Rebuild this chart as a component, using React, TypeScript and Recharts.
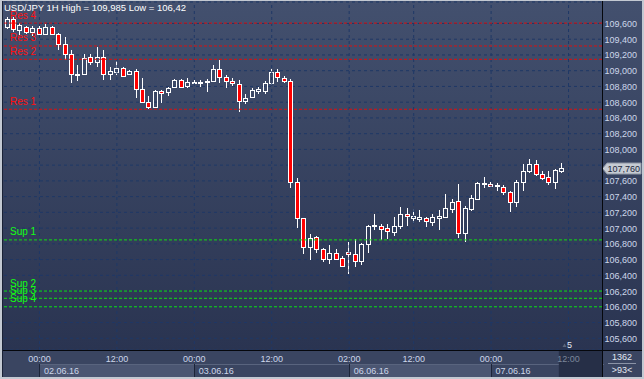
import { ComposedChart, Bar, XAxis, YAxis, CartesianGrid, ReferenceLine } from "recharts";

// hourly candles, 01.06 19:00 -> 07.06 11:00 (weekend skipped)
const OPEN = [
  109.552, 109.653, 109.517, 109.559, 109.488, 109.539, 109.463, 109.552, 109.463, 109.336,
  109.209, 108.942, 108.958, 109.171, 109.107, 109.178, 108.958, 108.988, 109.031, 108.958,
  109.0, 108.764, 108.599, 108.543, 108.746, 108.726, 108.789, 108.882, 108.806, 108.853,
  108.853, 108.857, 108.869, 109.018, 108.916, 108.869, 108.827, 108.615, 108.662, 108.746,
  108.741, 108.84, 108.98, 108.911, 108.869, 107.582, 107.125, 106.756, 106.883, 106.731,
  106.612, 106.68, 106.617, 106.693, 106.667, 106.586, 106.794, 107.031, 107.031, 106.998,
  106.955, 107.023, 107.176, 107.133, 107.12, 107.125, 107.082, 107.133, 107.145, 107.247,
  107.345, 106.934, 107.247, 107.37, 107.561, 107.561, 107.531, 107.525, 107.455, 107.336,
  107.589, 107.73, 107.811, 107.684, 107.646, 107.59, 107.73,
];
const HIGH = [
  109.679, 109.686, 109.603, 109.568, 109.568, 109.568, 109.59, 109.562, 109.475, 109.432,
  109.263, 109.073, 109.209, 109.209, 109.298, 109.263, 109.051, 109.124, 109.051, 109.009,
  109.018, 108.904, 108.683, 108.761, 108.755, 108.797, 108.891, 108.891, 108.904, 108.882,
  108.882, 108.891, 109.073, 109.136, 108.946, 108.911, 108.882, 108.7, 108.774, 108.797,
  108.873, 109.018, 109.018, 108.937, 108.891, 107.633, 107.13, 106.925, 106.9, 106.751,
  106.786, 106.731, 106.65, 106.824, 106.858, 106.815, 107.04, 107.18, 107.049, 107.049,
  107.138, 107.268, 107.252, 107.239, 107.23, 107.138, 107.176, 107.23, 107.434, 107.366,
  107.561, 107.281, 107.421, 107.589, 107.646, 107.589, 107.577, 107.547, 107.472, 107.611,
  107.815, 107.878, 107.866, 107.73, 107.73, 107.745, 107.824,
];
const LOW = [
  109.526, 109.496, 109.454, 109.463, 109.441, 109.454, 109.455, 109.454, 109.263, 109.136,
  108.84, 108.873, 108.946, 109.073, 109.051, 108.882, 108.882, 108.946, 108.924, 108.946,
  108.65, 108.586, 108.51, 108.535, 108.586, 108.683, 108.777, 108.777, 108.777, 108.83,
  108.789, 108.733, 108.861, 108.84, 108.777, 108.81, 108.479, 108.577, 108.657, 108.7,
  108.704, 108.817, 108.861, 108.84, 107.506, 106.998, 106.671, 106.595, 106.688, 106.566,
  106.54, 106.595, 106.502, 106.42, 106.509, 106.532, 106.688, 106.976, 106.849, 106.861,
  106.904, 106.985, 107.027, 107.061, 107.082, 107.01, 107.027, 106.976, 107.125, 107.196,
  106.871, 106.826, 107.22, 107.357, 107.506, 107.525, 107.475, 107.421, 107.201, 107.272,
  107.475, 107.697, 107.661, 107.612, 107.548, 107.496, 107.697,
];
const CLOSE = [
  109.657, 109.526, 109.581, 109.488, 109.539, 109.463, 109.559, 109.463, 109.336, 109.212,
  108.955, 108.958, 109.165, 109.107, 109.178, 108.958, 109.0, 109.038, 108.937, 109.0,
  108.764, 108.606, 108.543, 108.746, 108.721, 108.777, 108.882, 108.789, 108.861, 108.861,
  108.861, 108.869, 109.018, 108.916, 108.869, 108.84, 108.615, 108.65, 108.755, 108.768,
  108.84, 108.98, 108.924, 108.869, 107.582, 107.125, 106.756, 106.871, 106.731, 106.604,
  106.68, 106.612, 106.523, 106.667, 106.586, 106.794, 107.031, 107.04, 106.985, 106.958,
  107.023, 107.176, 107.151, 107.154, 107.138, 107.091, 107.138, 107.151, 107.252, 107.332,
  106.934, 107.252, 107.379, 107.577, 107.577, 107.534, 107.547, 107.455, 107.328, 107.589,
  107.73, 107.815, 107.684, 107.641, 107.59, 107.739, 107.76,
];

const SLOTS = 93; // bars visible on screen (">93<")
const PAD_RIGHT = -2; // last slot runs slightly under the price scale
const TIME_TICKS = [5, 17, 29, 41, 53, 63, 75, 87];
const TIME_LABELS = ["00:00", "12:00", "00:00", "12:00", "02:00", "12:00", "00:00", "12:00"];
const DATE_TICKS = [5, 29, 53, 75];
const DATE_LABELS = ["02.06.16", "03.06.16", "06.06.16", "07.06.16"];
const PRICE_TICKS = [
  105.6, 105.8, 106.0, 106.2, 106.4, 106.6, 106.8, 107.0, 107.2, 107.4, 107.6,
  107.8, 108.0, 108.2, 108.4, 108.6, 108.8, 109.0, 109.2, 109.4, 109.6,
];
const RES_NAMES = ["Res 4", "Res 3", "Res 2", "Res 1"];
const RES_VALUES = [109.605, 109.314, 109.145, 108.51];
const SUP_NAMES = ["Sup 1", "Sup 2", "Sup 3", "Sup 4"];
const SUP_VALUES = [106.85, 106.2, 106.108, 106.0];
const HIGH_TEXT = "109,985";
const LOW_TEXT = "106,42";

const ROWS = Array.from({ length: SLOTS }, (_, i) =>
  i < OPEN.length ? { i, open: OPEN[i], high: HIGH[i], low: LOW[i], close: CLOSE[i] } : { i }
);
const LAST = CLOSE[CLOSE.length - 1];
const LAST_INDEX = CLOSE.length - 1;

const BG_TOP = "#43506e";
const BG_BOTTOM = "#2a3451";
const GRID = "#1f3866";
const AXIS_TEXT = "#cdd7ea";
const BAND = "#3a4561";
const BAND_LIGHT = "#4b5672";
const FRAME = "#c3c9d2";
const RED_LINE = "#dc1010";
const GREEN_LINE = "#10e010";

const fmt = (v: number) => v.toFixed(3).replace(".", ",");

const Candle = (p: any) => {
  const d = p.payload;
  if (!d || d.open == null || !(p.height > 0)) return null;
  const k = p.height / (d.high - d.low);
  const cx = Math.floor(p.x + p.width / 2) + 0.5;
  const yO = p.y + (d.high - d.open) * k;
  const yC = p.y + (d.high - d.close) * k;
  const top = Math.round(Math.min(yO, yC)) + 0.5;
  let bot = Math.round(Math.max(yO, yC)) + 0.5;
  if (bot - top < 1) bot = top + 1;
  const up = d.close >= d.open;
  return (
    <g>
      <line x1={cx} x2={cx} y1={Math.round(p.y)} y2={top} stroke="#fff" />
      <line x1={cx} x2={cx} y1={bot} y2={Math.round(p.y + p.height)} stroke="#fff" />
      <rect x={cx - 2} y={top} width={4} height={bot - top} fill={up ? "none" : "#ff0000"} stroke="#fff" />
    </g>
  );
};

// the last-price flag covers the label next to it
const PriceTick = ({ x, y, payload }: any) =>
  Math.abs(payload.value - LAST) < 0.08 ? null : (
    <text x={x + 2.5} y={y + 3.5} fill={AXIS_TEXT} fontSize={9}>
      {fmt(payload.value)}
    </text>
  );

const TimeTick = (props: any) => {
  const { x, y, payload, width } = props;
  const v = payload.value as number;
  const bw = ((width || 598) - PAD_RIGHT) / SLOTS;
  const t = TIME_TICKS.indexOf(v);
  const d = DATE_TICKS.indexOf(v);
  const future = v > LAST_INDEX;
  let span = 0;
  if (d >= 0) {
    const next = d + 1 < DATE_TICKS.length ? DATE_TICKS[d + 1] : SLOTS - 0.5;
    span = (next - v) * bw;
  }
  return (
    <g>
      {d >= 0 && (
        <g>
          <rect x={x} y={y + 14} width={span} height={13} fill={d % 2 === 0 ? BAND_LIGHT : BAND} />
          <line x1={x} x2={x + span} y1={y + 14.5} y2={y + 14.5} stroke="#59647e" />
          <line x1={Math.round(x) + 0.5} x2={Math.round(x) + 0.5} y1={y + 14} y2={y + 27} stroke="#1c2438" />
          <text x={x + 4.5} y={y + 23.5} fill={AXIS_TEXT} fontSize={9}>
            {DATE_LABELS[d]}
          </text>
        </g>
      )}
      {future && (
        <g>
          <rect x={x - 1.5 * bw} y={y} width={(SLOTS - 0.5 - v + 1.5) * bw + PAD_RIGHT} height={27} fill="#262f47" />
          <path d={`M ${x - 6} ${y - 3} l 2 -3.5 l 2 3.5 z`} fill="#5c667b" />
          <text x={x - 1.5} y={y - 2.5} fill="#e6ecf6" fontSize={9}>5</text>
        </g>
      )}
      <text x={x} y={y + 12} textAnchor="middle" fill={future ? "#7b869a" : AXIS_TEXT} fontSize={9}>
        {TIME_LABELS[t]}
      </text>
    </g>
  );
};

const levelLabel = (name: string, color: string) => (p: any) => {
  const vb = p.viewBox || p;
  return (
    <text x={vb.x + 6} y={vb.y - 4.5} fill={color} fontSize={10}>
      {name}
    </text>
  );
};

const PriceFlag = (p: any) => {
  const vb = p.viewBox || p;
  const x0 = vb.x + vb.width - PAD_RIGHT * 0;
  const y = Math.round(vb.y) + 0.5;
  return (
    <g>
      <path
        d={`M ${x0 + 0.5} ${y} L ${x0 + 5} ${y - 5.5} L ${x0 + 39} ${y - 5.5} L ${x0 + 39} ${y + 5.5} L ${x0 + 5} ${y + 5.5} Z`}
        fill="#c6cbd3"
        stroke="#8d95a3"
      />
      <text x={x0 + 5.5} y={y + 3.5} fill="#1d283c" fontSize={9}>
        {fmt(LAST)}
      </text>
    </g>
  );
};

export default function App() {
  return (
    <div
      style={{
        position: "relative",
        width: 644,
        height: 379,
        overflow: "hidden",
        background: FRAME,
        fontFamily: '"Liberation Sans", Arial, sans-serif',
      }}
    >
      <style>{"body{margin:0}"}</style>
      <div
        style={{
          position: "absolute",
          left: 2,
          top: 1,
          width: 640,
          height: 349,
          background: `linear-gradient(${BG_TOP}, ${BG_BOTTOM})`,
        }}
      />
      <div style={{ position: "absolute", left: 2, top: 350, width: 640, height: 27, background: BAND }} />
      <div style={{ position: "absolute", left: 0, top: 0 }}>
        <ComposedChart width={644} height={379} data={ROWS} margin={{ top: 2, right: 0, bottom: 0, left: 4 }}>
          <CartesianGrid vertical={false} stroke={GRID} strokeDasharray="3 3" />
          {TIME_TICKS.map((t) => (
            <ReferenceLine key={"v" + t} x={t} stroke={GRID} strokeDasharray="3 3" />
          ))}
          <XAxis
            dataKey="i"
            type="category"
            height={29}
            padding={{ left: 0, right: PAD_RIGHT }}
            ticks={TIME_TICKS}
            interval={0}
            minTickGap={0}
            tickSize={0}
            tickMargin={0}
            axisLine={false}
            tickLine={false}
            tick={<TimeTick />}
          />
          <YAxis
            orientation="right"
            width={42}
            type="number"
            domain={[105.451, 109.873]}
            ticks={PRICE_TICKS}
            interval={0}
            tickSize={0}
            tickMargin={0}
            axisLine={false}
            tickLine={false}
            tick={<PriceTick />}
          />
          {RES_VALUES.map((v, k) => (
            <ReferenceLine
              key={RES_NAMES[k]}
              y={v}
              stroke={RED_LINE}
              strokeDasharray="3 2"
              label={levelLabel(RES_NAMES[k], "#ff1010")}
            />
          ))}
          {SUP_VALUES.map((v, k) => (
            <ReferenceLine
              key={SUP_NAMES[k]}
              y={v}
              stroke={GREEN_LINE}
              strokeDasharray="3 2"
              label={levelLabel(SUP_NAMES[k], "#14ff14")}
            />
          ))}
          <Bar
            dataKey={(d: any) => (d.open == null ? null : [d.low, d.high])}
            barSize={4}
            shape={(p: any) => <Candle {...p} />}
            isAnimationActive={false}
          />
          <ReferenceLine y={LAST} stroke="none" label={PriceFlag} />
        </ComposedChart>
      </div>
      <div style={{ position: "absolute", left: 2, top: 350, width: 640, height: 1, background: "#05070c" }} />
      <div style={{ position: "absolute", left: 602, top: 1, width: 1, height: 376, background: "#05070c" }} />
      <div style={{ position: "absolute", left: 2, top: 1, width: 1, height: 376, background: "#1a2236" }} />
      <div
        style={{
          position: "absolute",
          left: 4,
          top: 2,
          fontSize: 9.5,
          lineHeight: "12px",
          color: "#ffffff",
          whiteSpace: "nowrap",
        }}
      >
        {`USD/JPY 1H High = ${HIGH_TEXT} Low = ${LOW_TEXT}`}
      </div>
      <div
        style={{
          position: "absolute",
          left: 603,
          top: 351,
          width: 38,
          fontSize: 9,
          lineHeight: "12px",
          color: "#e2e8f2",
          textAlign: "center",
        }}
      >
        <div>1362</div>
        <div style={{ height: 1, margin: "0 5px", background: "#8a93a6" }} />
        <div>&gt;93&lt;</div>
      </div>
    </div>
  );
}
